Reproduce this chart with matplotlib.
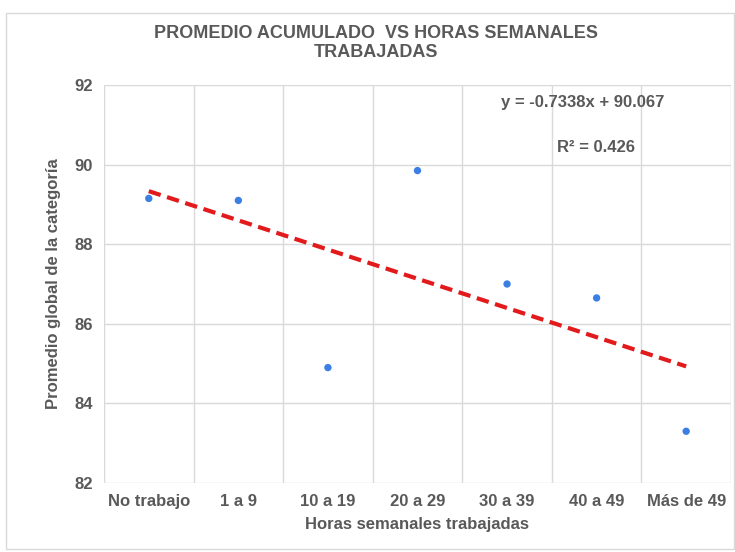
import matplotlib
matplotlib.use("Agg")
import matplotlib.pyplot as plt
from matplotlib.patches import Rectangle

plt.rcParams["font.family"] = ["Liberation Sans", "DejaVu Sans"]

categories = ["No trabajo", "1 a 9", "10 a 19", "20 a 29", "30 a 39", "40 a 49", "Más de 49"]
promedio = [89.15, 89.1, 84.9, 89.85, 87.0, 86.65, 83.3]

# linear trendline as printed on the chart
slope = -0.7338
intercept = 90.067
r_squared = 0.426

TEXT = "#595959"
GRID = "#D9D9D9"
POINT = "#3B7FE3"
TREND = "#E31A1C"

fig = plt.figure(figsize=(7.35, 5.52), dpi=100)
fig.patches.append(Rectangle((0.008, 0.005), 0.99, 0.972, transform=fig.transFigure,
                             fill=False, edgecolor="#D9D9D9", lw=1.0))
ax = fig.add_axes([0.1415, 0.125, 0.853, 0.721])

xs = list(range(1, len(categories) + 1))
ax.scatter(xs, promedio, s=28, color=POINT, zorder=3, edgecolors="none")
trend_x = [xs[0], xs[-1]]
trend_y = [slope * x + intercept for x in trend_x]
ax.plot(trend_x, trend_y, color=TREND, lw=3, ls=(0, (3, 1.6)), zorder=2)

ax.set_xlim(0.5, len(categories) + 0.5)
ax.set_ylim(82, 92)
ax.set_yticks(range(82, 93, 2))
ax.set_xticks(xs)
ax.set_xticklabels(categories)
ax.set_xticks([x + 0.5 for x in range(len(categories) + 1)], minor=True)
ax.grid(True, which="minor", axis="x", color=GRID, lw=1)
ax.grid(True, which="major", axis="y", color=GRID, lw=1)
ax.tick_params(axis="both", which="both", length=0, labelsize=12, labelcolor=TEXT, pad=8)
for lbl in ax.get_xticklabels() + ax.get_yticklabels():
    lbl.set_fontweight("bold")
for s in ax.spines.values():
    s.set_visible(False)
ax.set_axisbelow(True)

ax.set_xlabel("Horas semanales trabajadas", fontsize=12, fontweight="bold", color=TEXT, labelpad=6)
ax.set_ylabel("Promedio global de la categoría", fontsize=12, fontweight="bold", color=TEXT, labelpad=10)
fig.suptitle("PROMEDIO ACUMULADO  VS HORAS SEMANALES\nTRABAJADAS", x=0.512, y=0.955,
             fontsize=13, fontweight="bold", color=TEXT, linespacing=1.2)

ax.text(0.764, 0.955, f"y = {slope}x + {intercept}", transform=ax.transAxes, ha="center", va="center",
        fontsize=12, fontweight="bold", color=TEXT)
ax.text(0.785, 0.842, f"R² = {r_squared}", transform=ax.transAxes, ha="center", va="center",
        fontsize=12, fontweight="bold", color=TEXT)

fig.savefig("out.png", dpi=100)
